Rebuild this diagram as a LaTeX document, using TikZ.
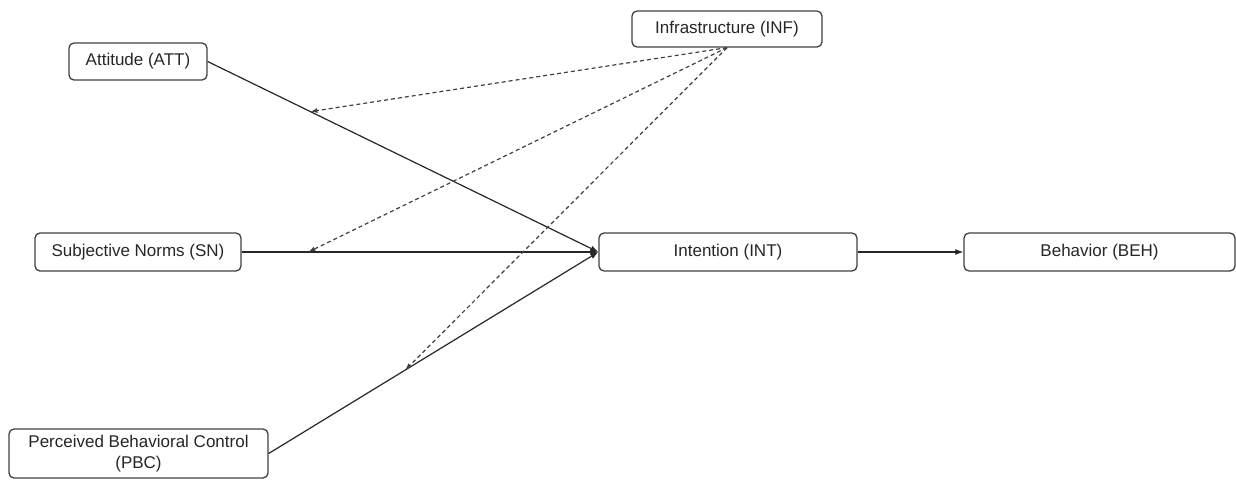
\documentclass[tikz,border=0pt]{standalone}
\usepackage{fontspec}
\setmainfont{Liberation Sans}
\usetikzlibrary{arrows.meta,calc}
\begin{document}
\begin{tikzpicture}[x=1pt,y=-1pt,
  box/.style={draw=black!75, line width=1.3pt, rounded corners=5pt, inner sep=0pt,
    align=center, font=\fontsize{17}{21}\selectfont, text=black!85},
  conn/.style={line width=1.2pt, draw=black!85, -{Latex[length=8pt,width=6pt]}},
  modline/.style={line width=1.2pt, draw=black!75, dash pattern=on 4pt off 3pt,
    -{Latex[length=7pt,width=5pt]}}]
\useasboundingbox (0,0) rectangle (1236,480);
\node[box, minimum width=138pt, minimum height=37pt] (att) at (138,61.5) {Attitude (ATT)};
\node[box, minimum width=190pt, minimum height=36pt] (inf) at (727,29) {Infrastructure (INF)};
\node[box, minimum width=206pt, minimum height=38pt] (sn) at (138,252) {Subjective Norms (SN)};
\node[box, minimum width=259pt, minimum height=49pt] (pbc) at (138.5,453.5) {Perceived Behavioral Control\\(PBC)};
\node[box, minimum width=258pt, minimum height=38pt] (int) at (728,252) {Intention (INT)};
\node[box, minimum width=271pt, minimum height=38pt] (beh) at (1099.5,252) {Behavior (BEH)};
\draw[conn] (att.east) -- (int.west);
\draw[conn] (sn.east) -- (int.west);
\draw[conn] (pbc.east) -- (int.west);
\draw[conn] (int.east) -- (beh.west);
\coordinate (m1) at ($(att.east)!0.263!(int.west)$);
\coordinate (m2) at ($(sn.east)!0.187!(int.west)$);
\coordinate (m3) at ($(pbc.east)!0.414!(int.west)$);
\draw[modline] (inf.south) -- (m1);
\draw[modline] (inf.south) -- (m2);
\draw[modline] (inf.south) -- (m3);
\end{tikzpicture}
\end{document}
